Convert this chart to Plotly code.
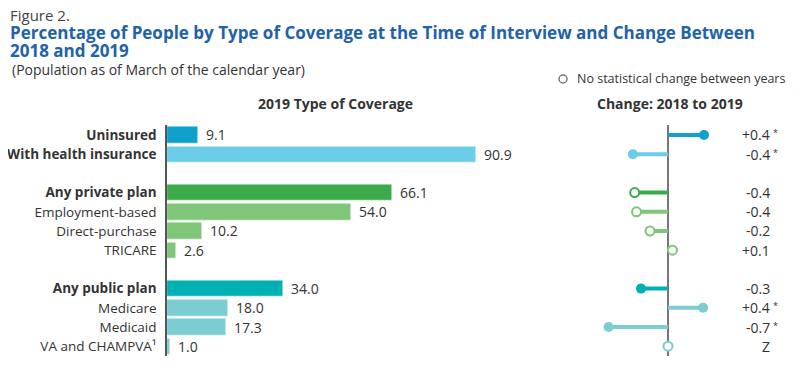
import plotly.graph_objects as go

# The page body has an 8px margin, so the figure is drawn 8px smaller and
# reference pixel coordinates are shifted by that offset.
OFF = 8
W, H = 803 - OFF, 386 - OFF

categories = ["Uninsured", "With health insurance", "Any private plan", "Employment-based",
              "Direct-purchase", "TRICARE", "Any public plan", "Medicare", "Medicaid",
              "VA and CHAMPVA¹"]
bold_rows = [True, True, True, False, False, False, True, False, False, False]
row_pos = [0, 1, 3, 4, 5, 6, 8, 9, 10, 11]
values_2019 = [9.1, 90.9, 66.1, 54.0, 10.2, 2.6, 34.0, 18.0, 17.3, 1.0]
value_labels = ["9.1", "90.9", "66.1", "54.0", "10.2", "2.6", "34.0", "18.0", "17.3", "1.0"]
change = [0.40, -0.39, -0.37, -0.35, -0.20, 0.05, -0.30, 0.39, -0.66, 0.0]
change_labels = ["+0.4", "-0.4", "-0.4", "-0.4", "-0.2", "+0.1", "-0.3", "+0.4", "-0.7", "Z"]
label_star = [True, True, False, False, False, False, False, True, True, False]
filled_marker = [True, True, False, False, False, False, True, True, True, False]
colors = ["#10a0cc", "#6ccdea", "#3aaa4a", "#80c67a", "#80c67a", "#80c67a",
          "#00b1b4", "#7bcdd2", "#7bcdd2", "#7bcdd2"]

FONT = "Open Sans"
TXT = "#333333"
SCALE2 = 90  # px per unit on change axis


def px(x):
    return (x - OFF) / W


def py(y):
    return 1 - (y - OFF) / H


fig = go.Figure()

fig.add_trace(go.Bar(
    x=values_2019, y=row_pos, orientation="h", width=0.86,
    marker=dict(color=colors, line=dict(color="white", width=0.5)),
    xaxis="x", yaxis="y", hoverinfo="skip", showlegend=False))

for v, p, c, s in zip(change, row_pos, colors, filled_marker):
    fig.add_trace(go.Scatter(
        x=[0, v], y=[p, p], mode="lines", line=dict(color=c, width=4),
        xaxis="x2", yaxis="y2", hoverinfo="skip", showlegend=False))
    fig.add_trace(go.Scatter(
        x=[v], y=[p], mode="markers",
        marker=dict(size=10 if s else 9, color=c if s else "white",
                    line=dict(color=c, width=0 if s else 2)),
        xaxis="x2", yaxis="y2", hoverinfo="skip", showlegend=False))

annotations = []
for v, p, lab in zip(values_2019, row_pos, value_labels):
    annotations.append(dict(x=v, y=p, xref="x", yref="y", text=lab, showarrow=False,
                            xanchor="left", yanchor="middle", xshift=6,
                            font=dict(family=FONT, size=14, color=TXT)))

for p, lab, s in zip(row_pos, change_labels, label_star):
    annotations.append(dict(x=px(772), y=p, xref="paper", yref="y", text=lab, showarrow=False,
                            xanchor="right", yanchor="middle",
                            font=dict(family=FONT, size=14, color=TXT)))
    if s:
        annotations.append(dict(x=px(771), y=p, xref="paper", yref="y", text="*", showarrow=False,
                                xanchor="left", yanchor="middle", yshift=2,
                                font=dict(family=FONT, size=9, color=TXT)))

annotations += [
    dict(x=px(9), y=py(15), xref="paper", yref="paper", text="Figure 2.", showarrow=False,
         xanchor="left", yanchor="middle", borderpad=0,
         font=dict(family=FONT, size=15, color="#444444")),
    dict(x=px(8), y=py(32), xref="paper", yref="paper",
         text="<b>Percentage of People by Type of Coverage at the Time of Interview and Change Between</b>",
         showarrow=False, xanchor="left", yanchor="middle",
         font=dict(family=FONT, size=17, color="#2162a8")),
    dict(x=px(8), y=py(50), xref="paper", yref="paper", text="<b>2018 and 2019</b>",
         showarrow=False, xanchor="left", yanchor="middle",
         font=dict(family=FONT, size=17, color="#2162a8")),
    dict(x=px(10), y=py(69), xref="paper", yref="paper",
         text="(Population as of March of the calendar year)", showarrow=False,
         xanchor="left", yanchor="middle", font=dict(family=FONT, size=14, color=TXT)),
    dict(x=px(335), y=py(103), xref="paper", yref="paper", text="<b>2019 Type of Coverage</b>",
         showarrow=False, xanchor="center", yanchor="middle",
         font=dict(family=FONT, size=14, color=TXT)),
    dict(x=px(670), y=py(103), xref="paper", yref="paper", text="<b>Change: 2018 to 2019</b>",
         showarrow=False, xanchor="center", yanchor="middle",
         font=dict(family=FONT, size=14, color=TXT)),
    dict(x=px(575), y=py(79), xref="paper", yref="paper",
         text="No statistical change between years", showarrow=False,
         xanchor="left", yanchor="middle", font=dict(family=FONT, size=12.5, color=TXT)),
]

shapes = [dict(type="circle", xref="paper", yref="paper",
               x0=px(559), x1=px(567), y0=py(83), y1=py(75),
               line=dict(color="#777777", width=1.5), fillcolor="white")]

ticktext = [f"<b>{c}</b>" if b else c for c, b in zip(categories, bold_rows)]

y_top, y_bot = 125.4, 355.8
ydom = [py(y_bot), py(y_top)]

fig.update_layout(
    width=W, height=H, margin=dict(l=0, r=0, t=0, b=0),
    paper_bgcolor="white", plot_bgcolor="white",
    font=dict(family=FONT, size=13, color=TXT),
    bargap=0,
    xaxis=dict(domain=[px(167), px(507)], range=[0, 100], showgrid=False, zeroline=False,
               showticklabels=False, ticks="", fixedrange=True),
    yaxis=dict(domain=ydom, range=[11.5, -0.5], tickvals=row_pos, ticktext=ticktext,
               showgrid=False, zeroline=False, showline=True, linecolor="#555555", linewidth=1.5,
               ticks="", ticklabelstandoff=6, tickfont=dict(family=FONT, size=13.5, color=TXT)),
    xaxis2=dict(domain=[px(668 - 0.8 * SCALE2), px(668 + 0.8 * SCALE2)], range=[-0.8, 0.8],
                showgrid=False, zeroline=True, zerolinecolor="#777777", zerolinewidth=1.5,
                showticklabels=False, ticks="", anchor="y2"),
    yaxis2=dict(domain=ydom, range=[11.5, -0.5], showgrid=False, zeroline=False,
                showticklabels=False, ticks="", anchor="x2", showline=False),
    annotations=annotations, shapes=shapes,
)

fig.write_html("out.html")
